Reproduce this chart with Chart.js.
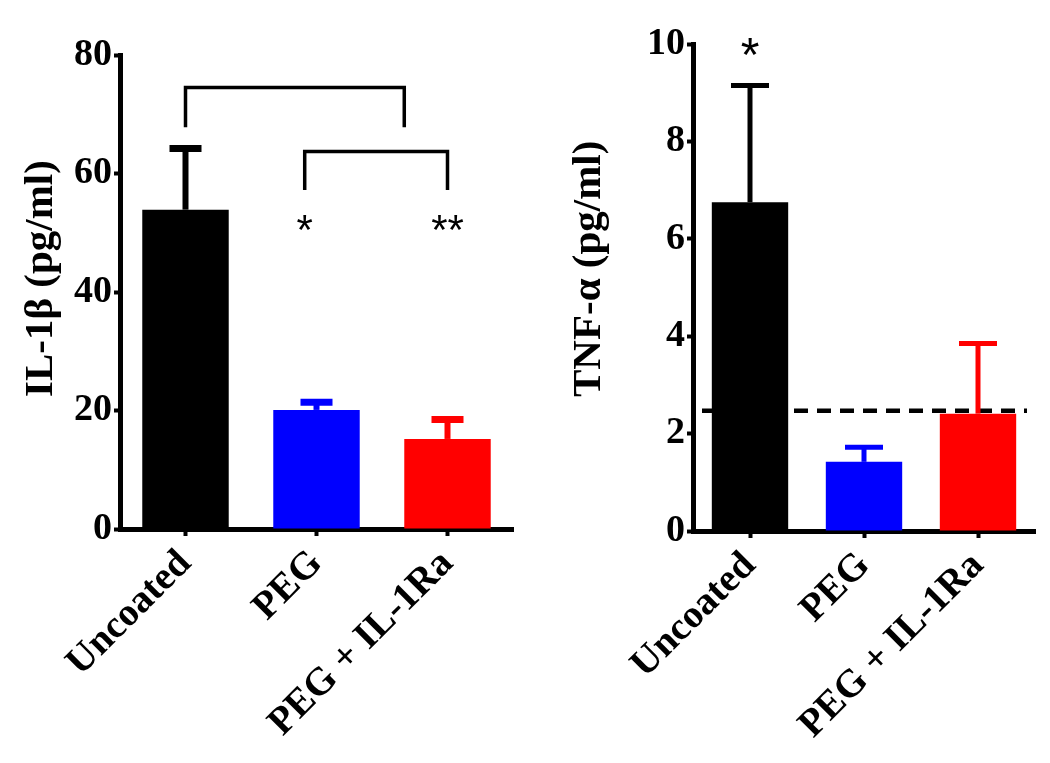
<!DOCTYPE html>
<html>
<head>
<meta charset="utf-8">
<script src="https://cdn.jsdelivr.net/npm/chart.js@4.4.1/dist/chart.umd.min.js"></script>
<style>
  body { margin: 0; background: #fff; width: 1050px; height: 763px; overflow: hidden; position: relative; }
  .box { position: absolute; top: 0; height: 763px; }
</style>
</head>
<body>
<div class="box" style="left:0;width:525px"><canvas id="chartIL1b"></canvas></div>
<div class="box" style="left:545px;width:505px"><canvas id="chartTNF"></canvas></div>
<script>
// Grupos e valores
const groups = ['Uncoated', 'PEG', 'PEG + IL-1Ra'];
const barColors = ['#000000', '#0000ff', '#ff0000'];

const il1bMean = [53.9, 20.1, 15.2];
const il1bUpper = [64.2, 21.4, 18.5];
const il1bMax = 80, il1bStep = 20;

const tnfMean = [6.75, 1.42, 2.41];
const tnfUpper = [9.15, 1.72, 3.85];
const tnfMax = 10, tnfStep = 2;
const tnfLimit = 2.47; // linha tracejada

// colchetes: [grupo inicial, grupo final, valor da barra, valor das pernas]
const il1bBrackets = [[0, 1.67, 74.5, 67.8], [0.91, 2, 63.7, 57.2]];
// asteriscos: [posição do grupo, valor, texto]
const il1bStars = [[0.91, 52.1, '*'], [2, 52.1, '**']];
const tnfStars = [[0, 10.0, '*']];

const serif = "'Liberation Serif', 'Times New Roman', serif";

// x em pixels para posição fracionária de grupo
function groupX(xs, pos) {
  const i = Math.floor(pos);
  const step = xs.getPixelForValue(1) - xs.getPixelForValue(0);
  return xs.getPixelForValue(i) + (pos - i) * step;
}

const extrasPlugin = {
  id: 'extras',
  afterDatasetsDraw(chart, args, o) {
    const { ctx } = chart;
    const xs = chart.scales.x, ys = chart.scales.y;
    ctx.save();
    ctx.lineCap = 'butt';

    // Linha tracejada
    if (o.limit != null) {
      const y = ys.getPixelForValue(o.limit);
      ctx.strokeStyle = '#000';
      ctx.lineWidth = 4.5;
      ctx.setLineDash([14, 9]);
      ctx.beginPath();
      ctx.moveTo(chart.chartArea.left + 9, y);
      ctx.lineTo(chart.chartArea.right - 8, y);
      ctx.stroke();
      ctx.setLineDash([]);
    }

    // Barras de erro (só para cima)
    o.upper.forEach((u, i) => {
      const x = xs.getPixelForValue(i);
      const y0 = ys.getPixelForValue(o.mean[i]);
      const y1 = ys.getPixelForValue(u);
      ctx.strokeStyle = barColors[i];
      ctx.lineWidth = o.errWidth;
      ctx.beginPath();
      ctx.moveTo(x, y0);
      ctx.lineTo(x, y1);
      ctx.stroke();
      ctx.lineWidth = o.capWidth;
      ctx.beginPath();
      ctx.moveTo(x - o.cap / 2, y1);
      ctx.lineTo(x + o.cap / 2, y1);
      ctx.stroke();
    });

    // Colchetes de significância
    (o.brackets || []).forEach(b => {
      const xa = groupX(xs, b[0]), xb = groupX(xs, b[1]);
      const yt = ys.getPixelForValue(b[2]), yl = ys.getPixelForValue(b[3]);
      ctx.strokeStyle = '#000';
      ctx.lineWidth = 3.5;
      ctx.lineJoin = 'miter';
      ctx.beginPath();
      ctx.moveTo(xa, yl);
      ctx.lineTo(xa, yt);
      ctx.lineTo(xb, yt);
      ctx.lineTo(xb, yl);
      ctx.stroke();
    });

    // Asteriscos
    ctx.fillStyle = '#000';
    ctx.textAlign = 'center';
    ctx.textBaseline = 'alphabetic';
    ctx.font = `${o.starSize}px 'Liberation Sans', Arial, sans-serif`;
    (o.stars || []).forEach(s => {
      const x = groupX(xs, s[0]);
      const y = ys.getPixelForValue(s[1]) + o.starSize * 0.57;
      ctx.fillText(s[2], x, y);
    });

    // Título do eixo Y (começa embaixo, como no original)
    ctx.translate(o.titleX, o.titleStart);
    ctx.rotate(-Math.PI / 2);
    ctx.textAlign = 'left';
    ctx.textBaseline = 'middle';
    ctx.font = `bold 41px ${serif}`;
    ctx.fillText(o.title, 0, 0);
    ctx.restore();
  }
};

function makeChart(id, cfg) {
  return new Chart(document.getElementById(id), {
    type: 'bar',
    data: {
      labels: groups,
      datasets: [{
        data: cfg.mean,
        backgroundColor: barColors,
        borderWidth: 0,
        categoryPercentage: 1,
        barPercentage: cfg.barPct
      }]
    },
    options: {
      responsive: true,
      maintainAspectRatio: false,
      animation: false,
      layout: { padding: { top: cfg.top, right: cfg.right, left: 0, bottom: 0 } },
      plugins: {
        legend: { display: false },
        tooltip: { enabled: false },
        extras: cfg.extras
      },
      scales: {
        x: {
          afterFit: s => { s.height = cfg.xHeight; },
          border: { display: true, color: '#000', width: 5 },
          grid: { offset: false, drawOnChartArea: false, drawTicks: true, tickLength: 7, tickWidth: 4, color: '#000' },
          ticks: {
            color: '#000', autoSkip: false, minRotation: 45, maxRotation: 45, padding: 5,
            font: { family: serif, size: 39, weight: 'bold' }
          }
        },
        y: {
          min: 0, max: cfg.max,
          afterFit: s => { s.width = cfg.yWidth; },
          border: { display: true, color: '#000', width: 5 },
          grid: { drawOnChartArea: false, drawTicks: true, tickLength: 6, tickWidth: 4, color: '#000' },
          ticks: {
            stepSize: cfg.step, color: '#000', padding: 2,
            font: { family: serif, size: 38, weight: 'bold' }
          }
        }
      }
    },
    plugins: [extrasPlugin]
  });
}

makeChart('chartIL1b', {
  mean: il1bMean, max: il1bMax, step: il1bStep, barPct: 0.66,
  top: 55, right: 12, yWidth: 120, xHeight: 234,
  extras: { mean: il1bMean, upper: il1bUpper, errWidth: 6, capWidth: 7, cap: 32,
            brackets: il1bBrackets, stars: il1bStars, starSize: 42,
            title: 'IL-1β (pg/ml)', titleX: 41, titleStart: 397 }
});

makeChart('chartTNF', {
  mean: tnfMean, max: tnfMax, step: tnfStep, barPct: 0.67,
  top: 44, right: 15, yWidth: 148, xHeight: 232,
  extras: { mean: tnfMean, upper: tnfUpper, errWidth: 5, capWidth: 5, cap: 38,
            limit: tnfLimit, stars: tnfStars, starSize: 48,
            title: 'TNF-α (pg/ml)', titleX: 44, titleStart: 397 }
});
</script>
</body>
</html>
